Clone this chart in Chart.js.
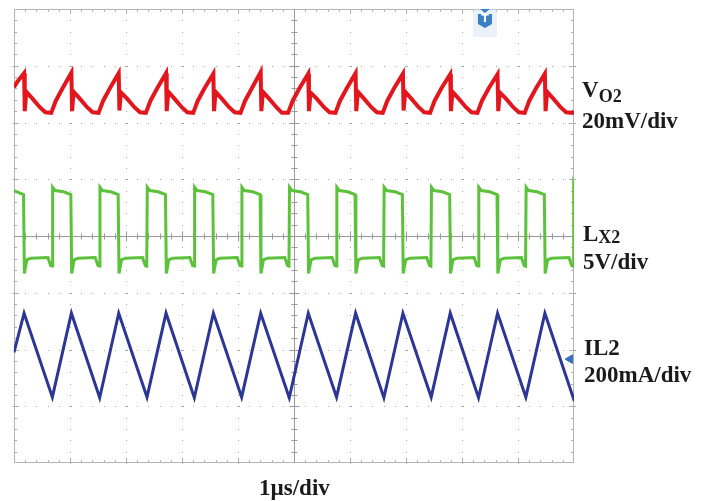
<!DOCTYPE html>
<html>
<head>
<meta charset="UTF-8">
<title>VO2 / LX2 / IL2 scope capture</title>
<script src="https://cdn.jsdelivr.net/npm/chart.js"></script>
<style>
  body { margin: 0; background: #fff; }
  #wrap { position: relative; width: 711px; height: 501px; overflow: hidden; }
  canvas { position: absolute; left: 0; top: 0; }
  .lbl {
    position: absolute;
    font-family: "Liberation Serif", "DejaVu Serif", serif;
    font-weight: bold;
    font-size: 23px;
    line-height: 23px;
    color: #1a1a1a;
    white-space: nowrap;
  }
  .lbl .sub { position: relative; font-size: 18px; }
  #trig {
    position: absolute; left: 479px; top: 12px; width: 12px; text-align: center;
    font-family: "DejaVu Sans", sans-serif; font-weight: bold; font-size: 11px; line-height: 14px; color: #fff;
  }
</style>
</head>
<body>
<div id="wrap">
  <canvas id="scope" width="711" height="501"></canvas>
  <div class="lbl" style="left:582px; top:78px;">V<span class="sub" style="top:5px;">O2</span></div>
  <div class="lbl" style="left:582px; top:109px;">20mV/div</div>
  <div class="lbl" style="left:583px; top:222px;">L<span class="sub" style="top:2px;">X2</span></div>
  <div class="lbl" style="left:583px; top:250px;">5V/div</div>
  <div class="lbl" style="left:584px; top:336px;">IL2</div>
  <div class="lbl" style="left:584px; top:363px;">200mA/div</div>
  <div class="lbl" style="left:259px; top:476px;">1µs/div</div>
  <div id="trig">T</div>
</div>

<script>
// time in divisions (1µs/div), amplitude in screen divisions (8 div tall, 0 = centre)
const vo2Trace = [
  [0, 2.62], [0.06, 2.72],
  [0.18, 2.87], [0.192, 2.2], [0.22, 2.54], [0.33, 2.42], [0.46, 2.27], [0.56, 2.18], [0.665, 2.17], [0.745, 2.38], [0.865, 2.6],
  [1.025, 2.88], [1.037, 2.2], [1.065, 2.54], [1.175, 2.42], [1.305, 2.27], [1.405, 2.18], [1.51, 2.17], [1.59, 2.38], [1.71, 2.6],
  [1.87, 2.87], [1.882, 2.21], [1.91, 2.53], [2.02, 2.42], [2.15, 2.27], [2.25, 2.18], [2.355, 2.17], [2.435, 2.38], [2.555, 2.6],
  [2.715, 2.87], [2.727, 2.2], [2.755, 2.54], [2.865, 2.42], [2.995, 2.27], [3.095, 2.18], [3.20, 2.17], [3.28, 2.38], [3.40, 2.6],
  [3.56, 2.86], [3.572, 2.2], [3.60, 2.54], [3.71, 2.42], [3.84, 2.27], [3.94, 2.18], [4.045, 2.17], [4.125, 2.38], [4.245, 2.6],
  [4.405, 2.89], [4.417, 2.2], [4.445, 2.54], [4.555, 2.42], [4.685, 2.27], [4.785, 2.17], [4.895, 2.17], [4.975, 2.38], [5.095, 2.6],
  [5.255, 2.86], [5.267, 2.2], [5.295, 2.53], [5.405, 2.42], [5.535, 2.27], [5.635, 2.18], [5.74, 2.17], [5.82, 2.38], [5.94, 2.6],
  [6.10, 2.87], [6.112, 2.2], [6.14, 2.54], [6.25, 2.42], [6.38, 2.27], [6.48, 2.18], [6.585, 2.17], [6.665, 2.38], [6.785, 2.6],
  [6.945, 2.86], [6.957, 2.21], [6.985, 2.54], [7.095, 2.42], [7.225, 2.27], [7.325, 2.18], [7.43, 2.17], [7.51, 2.38], [7.63, 2.6],
  [7.79, 2.85], [7.802, 2.2], [7.83, 2.54], [7.94, 2.42], [8.07, 2.27], [8.17, 2.18], [8.275, 2.17], [8.355, 2.38], [8.475, 2.6],
  [8.635, 2.85], [8.647, 2.2], [8.675, 2.53], [8.785, 2.42], [8.915, 2.27], [9.015, 2.18], [9.12, 2.17], [9.20, 2.38], [9.32, 2.6],
  [9.48, 2.86], [9.492, 2.2], [9.52, 2.54], [9.63, 2.42], [9.76, 2.27], [9.86, 2.18], [9.97, 2.17], [10, 2.2]
];

const lx2Trace = [
  [0, 0.8], [0.17, 0.73],
  [0.185, -0.66], [0.23, -0.42], [0.30, -0.39], [0.605, -0.38], [0.655, -0.52],
  [0.68, -0.53], [0.69, 0.86], [0.735, 0.8], [0.885, 0.78], [1.015, 0.73],
  [1.03, -0.66], [1.075, -0.42], [1.145, -0.39], [1.45, -0.38], [1.50, -0.52],
  [1.525, -0.53], [1.535, 0.86], [1.58, 0.8], [1.73, 0.78], [1.86, 0.73],
  [1.875, -0.66], [1.92, -0.42], [1.99, -0.39], [2.295, -0.38], [2.345, -0.52],
  [2.37, -0.53], [2.38, 0.86], [2.425, 0.8], [2.575, 0.78], [2.705, 0.73],
  [2.72, -0.66], [2.765, -0.42], [2.835, -0.39], [3.14, -0.38], [3.19, -0.52],
  [3.215, -0.53], [3.225, 0.86], [3.27, 0.8], [3.42, 0.78], [3.55, 0.73],
  [3.565, -0.66], [3.61, -0.42], [3.68, -0.39], [3.985, -0.38], [4.035, -0.52],
  [4.06, -0.53], [4.07, 0.86], [4.115, 0.8], [4.265, 0.78], [4.395, 0.73],
  [4.41, -0.66], [4.455, -0.42], [4.525, -0.39], [4.835, -0.38], [4.885, -0.52],
  [4.91, -0.53], [4.92, 0.86], [4.965, 0.8], [5.115, 0.78], [5.245, 0.73],
  [5.26, -0.66], [5.305, -0.42], [5.375, -0.39], [5.68, -0.38], [5.73, -0.52],
  [5.755, -0.53], [5.765, 0.86], [5.81, 0.8], [5.96, 0.78], [6.09, 0.73],
  [6.105, -0.66], [6.15, -0.42], [6.22, -0.39], [6.525, -0.38], [6.575, -0.52],
  [6.60, -0.53], [6.61, 0.86], [6.655, 0.8], [6.805, 0.78], [6.935, 0.73],
  [6.95, -0.66], [6.995, -0.42], [7.065, -0.39], [7.37, -0.38], [7.42, -0.52],
  [7.445, -0.53], [7.455, 0.86], [7.50, 0.8], [7.65, 0.78], [7.78, 0.73],
  [7.795, -0.66], [7.84, -0.42], [7.91, -0.39], [8.215, -0.38], [8.265, -0.52],
  [8.29, -0.53], [8.30, 0.86], [8.345, 0.8], [8.495, 0.78], [8.625, 0.73],
  [8.64, -0.66], [8.685, -0.42], [8.755, -0.39], [9.06, -0.38], [9.11, -0.52],
  [9.135, -0.53], [9.145, 0.86], [9.19, 0.8], [9.34, 0.78], [9.47, 0.73],
  [9.485, -0.66], [9.53, -0.42], [9.60, -0.39], [9.91, -0.38], [9.96, -0.52],
  [9.985, -0.53], [9.995, 0.86], [10, 0.84]
];

const il2Trace = [
  [0, -2.05], [0.18, -1.36], [0.685, -2.84], [1.025, -1.36], [1.53, -2.85], [1.87, -1.36],
  [2.375, -2.84], [2.715, -1.36], [3.22, -2.85], [3.56, -1.36], [4.065, -2.84], [4.405, -1.36],
  [4.915, -2.85], [5.255, -1.36], [5.76, -2.84], [6.10, -1.36], [6.605, -2.85], [6.945, -1.36],
  [7.45, -2.84], [7.79, -1.36], [8.295, -2.85], [8.635, -1.36], [9.14, -2.84], [9.48, -1.36],
  [9.99, -2.86], [10, -2.84]
];

const il2Marker = [[9.93, -2.17]];
const triggerTime = 8.41;

const xDivs = 10, yDivs = 8;

const pts = arr => arr.map(([x, y]) => ({ x, y }));

// graticule: dotted grid, ruled frame and centre cross
const scopeGrid = {
  id: 'scopeGrid',
  beforeDatasetsDraw(chart) {
    const { ctx, chartArea: a, scales: { x, y } } = chart;
    ctx.save();
    ctx.fillStyle = '#a9a9a9';
    for (let i = 1; i < xDivs; i++) {
      if (i === xDivs / 2) continue;
      const px = Math.round(x.getPixelForValue(i));
      for (let j = 0; j <= yDivs * 5; j++) {
        const py = Math.round(y.getPixelForValue(-4 + j / 5));
        ctx.fillRect(px, py, 1, 1);
      }
    }
    for (let j = 1; j < yDivs; j++) {
      if (j === yDivs / 2) continue;
      const py = Math.round(y.getPixelForValue(-4 + j));
      for (let i = 0; i <= xDivs * 5; i++) {
        const px = Math.round(x.getPixelForValue(i / 5));
        ctx.fillRect(px, py, 1, 1);
        if (i % 5 === 0) ctx.fillRect(px - 1, py, 3, 1);
      }
    }
    // frame
    ctx.strokeStyle = '#b5b5b5';
    ctx.lineWidth = 1;
    ctx.strokeRect(a.left + 0.5, a.top + 0.5, a.width - 1, a.height - 1);
    ctx.strokeStyle = '#b0b0b0';
    ctx.beginPath();
    for (let i = 1; i < xDivs * 5; i++) {
      const px = Math.round(x.getPixelForValue(i / 5)) + 0.5;
      const len = i % 5 === 0 ? 5 : 3;
      ctx.moveTo(px, a.top); ctx.lineTo(px, a.top + len);
      ctx.moveTo(px, a.bottom); ctx.lineTo(px, a.bottom - len);
    }
    for (let j = 1; j < yDivs * 5; j++) {
      const py = Math.round(y.getPixelForValue(-4 + j / 5)) + 0.5;
      const len = j % 5 === 0 ? 5 : 3;
      ctx.moveTo(a.left, py); ctx.lineTo(a.left + len, py);
      ctx.moveTo(a.right, py); ctx.lineTo(a.right - len, py);
    }
    ctx.stroke();
    // centre cross
    const cx = Math.round(x.getPixelForValue(5)) + 0.5;
    const cy = Math.round(y.getPixelForValue(0)) + 0.5;
    ctx.strokeStyle = '#9a9a9a';
    ctx.beginPath();
    ctx.moveTo(a.left, cy); ctx.lineTo(a.right, cy);
    ctx.moveTo(cx, a.top); ctx.lineTo(cx, a.bottom);
    for (let i = 1; i < xDivs * 5; i++) {
      const px = Math.round(x.getPixelForValue(i / 5)) + 0.5;
      const len = i % 5 === 0 ? 5 : 3;
      ctx.moveTo(px, cy - len); ctx.lineTo(px, cy + len);
    }
    for (let j = 1; j < yDivs * 5; j++) {
      const py = Math.round(y.getPixelForValue(-4 + j / 5)) + 0.5;
      const len = j % 5 === 0 ? 5 : 3;
      ctx.moveTo(cx - len, py); ctx.lineTo(cx + len, py);
    }
    ctx.stroke();
    ctx.restore();
  },
  afterDraw(chart) {
    // trigger position marker at the top
    const { ctx, chartArea: a, scales: { x } } = chart;
    const tx = x.getPixelForValue(triggerTime);
    ctx.save();
    ctx.fillStyle = 'rgba(210,225,242,0.45)';
    ctx.fillRect(tx - 12, a.top, 24, 28);
    ctx.fillStyle = '#3a80c6';
    ctx.beginPath();
    ctx.moveTo(tx - 5, a.top); ctx.lineTo(tx + 5, a.top); ctx.lineTo(tx, a.top + 4);
    ctx.closePath(); ctx.fill();
    ctx.beginPath();
    ctx.moveTo(tx - 7, a.top + 5); ctx.lineTo(tx + 7, a.top + 5);
    ctx.lineTo(tx + 7, a.top + 15); ctx.lineTo(tx, a.top + 19); ctx.lineTo(tx - 7, a.top + 15);
    ctx.closePath(); ctx.fill();
    ctx.restore();
  }
};

new Chart(document.getElementById('scope'), {
  type: 'line',
  data: {
    datasets: [
      { label: 'VO2', data: pts(vo2Trace), borderColor: '#e3161d', borderWidth: 4, pointRadius: 0, tension: 0 },
      { label: 'LX2', data: pts(lx2Trace), borderColor: '#5dc23b', borderWidth: 3, pointRadius: 0, tension: 0 },
      { label: 'IL2', data: pts(il2Trace), borderColor: '#2c3795', borderWidth: 3, pointRadius: 0, tension: 0 },
      { label: 'IL2 ref', data: pts(il2Marker), showLine: false, pointStyle: 'triangle', rotation: 270,
        pointRadius: 5, backgroundColor: '#3a6ec0', borderColor: '#3a6ec0', borderWidth: 1, clip: false }
    ]
  },
  options: {
    responsive: false,
    animation: false,
    devicePixelRatio: 1,
    layout: { padding: { left: 14, right: 137, top: 9, bottom: 38 } },
    plugins: { legend: { display: false }, tooltip: { enabled: false } },
    scales: {
      x: { type: 'linear', min: 0, max: xDivs, display: false },
      y: { type: 'linear', min: -yDivs / 2, max: yDivs / 2, display: false }
    }
  },
  plugins: [scopeGrid]
});
</script>
</body>
</html>
